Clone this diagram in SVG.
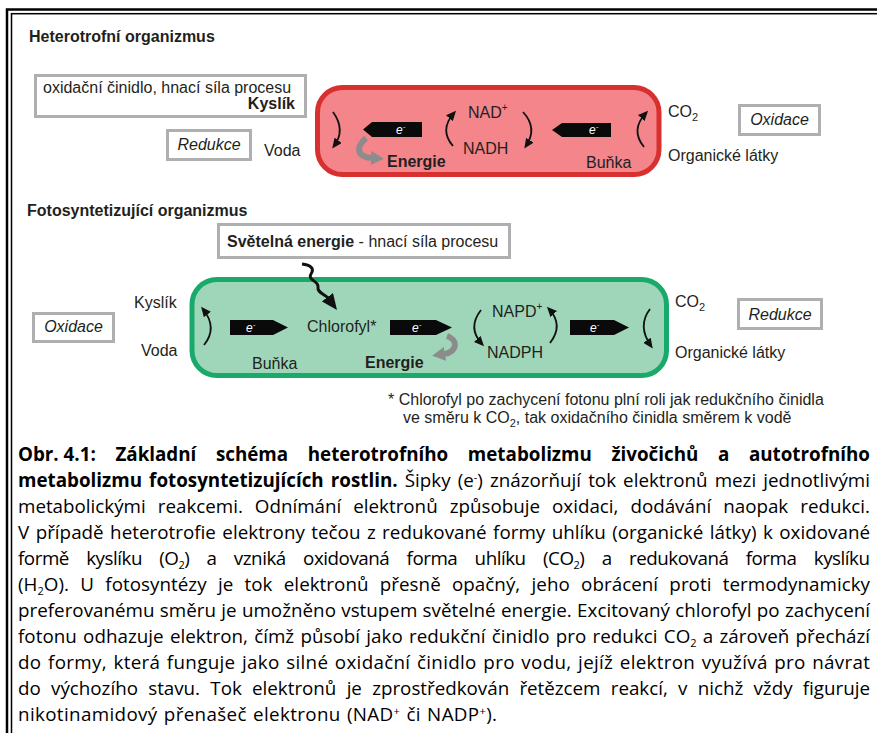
<svg xmlns="http://www.w3.org/2000/svg" width="877" height="733" viewBox="0 0 877 733">
<style>
.t{font-family:"Liberation Sans",Arial,sans-serif;font-size:16px;fill:#231f20}
.b{font-weight:bold}
.i{font-style:italic}
.box{fill:#fff;stroke:#afafb1;stroke-width:3}
.arr{fill:none;stroke:#111;stroke-width:1.8}
.ga{fill:none;stroke:#8c8c8c;stroke-width:6}
.el{font-family:"Liberation Sans",Arial,sans-serif;font-size:12px;font-style:italic;fill:#fff}
.cap{font-family:"Open Sans",sans-serif;font-size:18.8px;fill:#000}
.cb{font-weight:bold}
</style>
<defs>
<marker id="ba" markerUnits="userSpaceOnUse" markerWidth="10" markerHeight="9" refX="7" refY="4.5" orient="auto" viewBox="0 0 10 9"><path d="M0,0 L10,4.5 L0,9 z" fill="#111"/></marker>
<marker id="gh" markerUnits="userSpaceOnUse" markerWidth="13" markerHeight="14" refX="1" refY="7" orient="auto" viewBox="0 0 13 14"><path d="M0,0 L13,7 L0,14 z" fill="#8c8c8c"/></marker>
<marker id="wh" markerUnits="userSpaceOnUse" markerWidth="16" markerHeight="14" refX="1" refY="7" orient="auto" viewBox="0 0 16 14"><path d="M0,0 L16,7 L0,14 z" fill="#111"/></marker>
</defs>
<rect width="877" height="733" fill="#fff"/>
<g id="frame" fill="none" stroke="#000">
<rect x="7" y="9.5" width="900" height="800" stroke-width="2.5"/>
<rect x="11.5" y="13.7" width="900" height="800" stroke-width="1.5"/>
</g>

<g id="heterotroph">
<text class="t b" x="29" y="42">Heterotrofní organizmus</text>
<g id="box-kyslik">
<rect class="box" x="35.5" y="75.5" width="270" height="41"/>
<text class="t" x="43" y="93">oxidační činidlo, hnací síla procesu</text>
<text class="t b" x="295" y="109" text-anchor="end">Kyslík</text>
</g>
<g id="box-redukce-h">
<rect class="box" x="167.5" y="130.5" width="83" height="29"/>
<text class="t i" x="209" y="150" text-anchor="middle">Redukce</text>
</g>
<text class="t" x="264" y="156">Voda</text>
<g id="cell-h">
<rect x="317.5" y="87.5" width="341.5" height="87" rx="25" fill="#f4858b" stroke="#d8302e" stroke-width="5"/>
<text class="t" x="468" y="118">NAD<tspan dy="-7" font-size="10">+</tspan></text>
<text class="t" x="463" y="154">NADH</text>
<text class="t b" x="387" y="167">Energie</text>
<text class="t" x="586" y="168">Buňka</text>
</g>
<text class="t" x="668" y="117">CO<tspan dy="4" font-size="11">2</tspan></text>
<text class="t" x="668" y="161">Organické látky</text>
<g id="box-oxidace-h">
<rect class="box" x="739.5" y="105.5" width="80" height="29"/>
<text class="t i" x="779.5" y="125" text-anchor="middle">Oxidace</text>
</g>
</g>

<g id="photosynth">
<text class="t b" x="27" y="216">Fotosyntetizující organizmus</text>
<g id="box-svetelna">
<rect class="box" x="218.5" y="224.5" width="291" height="33"/>
<text class="t" x="227" y="247"><tspan class="b">Světelná energie</tspan> - hnací síla procesu</text>
</g>
<g id="box-oxidace-p">
<rect class="box" x="33.5" y="313.5" width="80" height="28"/>
<text class="t i" x="73.5" y="332" text-anchor="middle">Oxidace</text>
</g>
<text class="t" x="134" y="308">Kyslík</text>
<text class="t" x="141" y="356">Voda</text>
<g id="cell-p">
<rect x="192" y="279.5" width="474.5" height="96" rx="25" fill="#9fd6b9" stroke="#19aa6b" stroke-width="5"/>
<text class="t" x="307" y="332">Chlorofyl*</text>
<text class="t" x="252" y="369">Buňka</text>
<text class="t b" x="365" y="368">Energie</text>
<text class="t" x="492" y="317">NAPD<tspan dy="-7" font-size="10">+</tspan></text>
<text class="t" x="487" y="358">NADPH</text>
</g>
<text class="t" x="675" y="307">CO<tspan dy="4" font-size="11">2</tspan></text>
<text class="t" x="675" y="358">Organické látky</text>
<g id="box-redukce-p">
<rect class="box" x="738.5" y="299.5" width="83" height="29"/>
<text class="t i" x="780" y="320" text-anchor="middle">Redukce</text>
</g>
<g id="footnote">
<text class="t" x="388" y="405">* Chlorofyl po zachycení fotonu plní roli jak redukčního činidla</text>
<text class="t" x="403" y="423">ve směru k CO<tspan dy="4" font-size="11">2</tspan><tspan dy="-4">, tak oxidačního činidla směrem k vodě</tspan></text>
</g>
</g>

<g id="connectors">
<path class="arr" d="M333,112 Q346,130 334,146" marker-end="url(#ba)"/>
<path class="arr" d="M453,146 Q439,130 454,113" marker-end="url(#ba)"/>
<path class="arr" d="M523,112 Q538,128 526,146" marker-end="url(#ba)"/>
<path class="arr" d="M644,147 Q630,130 646,113" marker-end="url(#ba)"/>
<path d="M422,122 L372,122 L363,129.5 L372,137 L422,137 z" fill="#0a0a0a"/>
<text class="el" x="396" y="134">e<tspan dy="-5" font-size="8">-</tspan></text>
<path d="M611,123 L562,123 L552,130 L562,137 L611,137 z" fill="#0a0a0a"/>
<text class="el" x="589" y="134">e<tspan dy="-5" font-size="8">-</tspan></text>
<path class="ga" d="M366,138 C355,148 357,157 372,158" marker-end="url(#gh)"/>
<path class="arr" d="M204,345 Q218,328 203,309" marker-end="url(#ba)"/>
<path class="arr" d="M481,310 Q467,328 482,344" marker-end="url(#ba)"/>
<path class="arr" d="M550,343 Q564,325 549,309" marker-end="url(#ba)"/>
<path class="arr" d="M650,309 Q637,326 651,346" marker-end="url(#ba)"/>
<path d="M230,320 L273,320 L288,327.5 L273,335 L230,335 z" fill="#0a0a0a"/>
<text class="el" x="246" y="332">e<tspan dy="-5" font-size="8">-</tspan></text>
<path d="M390,320 L436,320 L452,327.5 L436,335 L390,335 z" fill="#0a0a0a"/>
<text class="el" x="412" y="332">e<tspan dy="-5" font-size="8">-</tspan></text>
<path d="M570,320 L614,320 L629,327.5 L614,335 L570,335 z" fill="#0a0a0a"/>
<text class="el" x="590" y="332">e<tspan dy="-5" font-size="8">-</tspan></text>
<path class="ga" d="M447,336 C459,340 457,352 444,354" marker-end="url(#gh)"/>
<path d="M302,264 C310,265 315,268 311,274 C307,280 319,281 318,287 C317,293 325,294 328,298" fill="none" stroke="#111" stroke-width="3" marker-end="url(#wh)"/>
</g>

<g id="caption">
<text class="cap cb" x="18" y="461" word-spacing="14.7" textLength="852" lengthAdjust="spacing"><tspan word-spacing="0">Obr. 4.1:</tspan> Základní schéma heterotrofního metabolizmu živočichů a autotrofního</text>
<text class="cap" x="18" y="487" word-spacing="2.2" textLength="852" lengthAdjust="spacing"><tspan class="cb">metabolizmu fotosyntetizujících rostlin.</tspan> Šipky (e<tspan dy="-6" font-size="11">-</tspan><tspan dy="6">) znázorňují tok elektronů mezi jednotlivými</tspan></text>
<text class="cap" x="18" y="513" word-spacing="7.1" textLength="852" lengthAdjust="spacing">metabolickými reakcemi. Odnímání elektronů způsobuje oxidaci, dodávání naopak redukci.</text>
<text class="cap" x="18" y="539" word-spacing="1.5" textLength="852" lengthAdjust="spacing">V případě heterotrofie elektrony tečou z redukované formy uhlíku (organické látky) k oxidované</text>
<text class="cap" x="18" y="565" word-spacing="12.9" textLength="852" lengthAdjust="spacing">formě kyslíku (O<tspan dy="4" font-size="11">2</tspan><tspan dy="-4">) a vzniká oxidovaná forma uhlíku (CO</tspan><tspan dy="4" font-size="11">2</tspan><tspan dy="-4">) a redukovaná forma kyslíku</tspan></text>
<text class="cap" x="18" y="591" word-spacing="6.4" textLength="852" lengthAdjust="spacing">(H<tspan dy="4" font-size="11">2</tspan><tspan dy="-4">O). U fotosyntézy je tok elektronů přesně opačný, jeho obrácení proti termodynamicky</tspan></text>
<text class="cap" x="18" y="617" word-spacing="0.4" textLength="852" lengthAdjust="spacing">preferovanému směru je umožněno vstupem světelné energie. Excitovaný chlorofyl po zachycení</text>
<text class="cap" x="18" y="643" word-spacing="1.3" textLength="852" lengthAdjust="spacing">fotonu odhazuje elektron, čímž působí jako redukční činidlo pro redukci CO<tspan dy="4" font-size="11">2</tspan><tspan dy="-4"> a zároveň přechází</tspan></text>
<text class="cap" x="18" y="669" word-spacing="1.4" textLength="852" lengthAdjust="spacing">do formy, která funguje jako silné oxidační činidlo pro vodu, jejíž elektron využívá pro návrat</text>
<text class="cap" x="18" y="695" word-spacing="5.4" textLength="852" lengthAdjust="spacing">do výchozího stavu. Tok elektronů je zprostředkován řetězcem reakcí, v nichž vždy figuruje</text>
<text class="cap" x="18" y="721" word-spacing="1" textLength="479" lengthAdjust="spacing">nikotinamidový přenašeč elektronu (NAD<tspan dy="-6" font-size="11">+</tspan><tspan dy="6"> či NADP</tspan><tspan dy="-6" font-size="11">+</tspan><tspan dy="6">).</tspan></text>
</g>
</svg>
